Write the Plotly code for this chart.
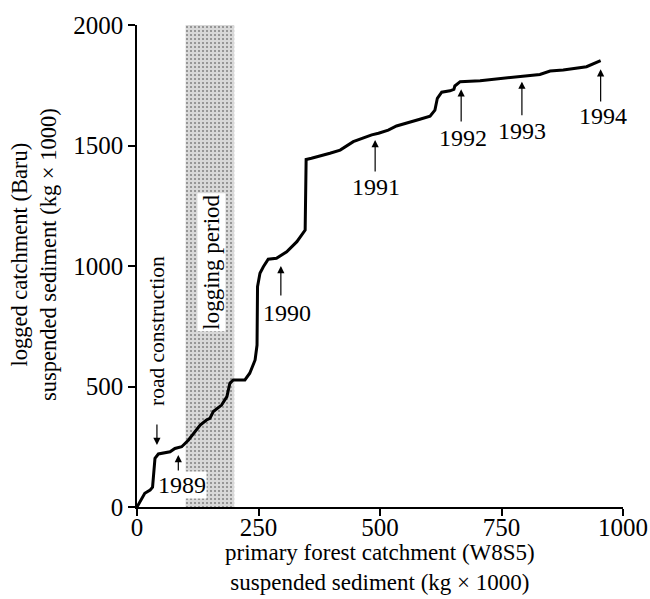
import plotly.graph_objects as go

# Cumulative suspended sediment: primary forest (W8S5) vs logged catchment (Baru), kg x 1000
forest_sed = [0, 16, 27, 32, 37, 44, 68, 78, 92, 106, 130, 143, 150, 157, 174, 185, 191, 198,
              222, 232, 243, 247, 248, 253, 260, 270, 287, 308, 329, 346, 348, 359, 397, 418,
              445, 462, 483, 497, 517, 534, 562, 582, 603, 613, 618, 627, 644, 652, 654, 665,
              706, 774, 829, 850, 877, 925, 939, 954]
logged_sed = [0, 57, 70, 82, 202, 220, 229, 243, 250, 278, 340, 361, 368, 396, 423, 458, 513, 527,
              527, 555, 610, 672, 914, 970, 997, 1028, 1032, 1059, 1101, 1149, 1442, 1447, 1468, 1481,
              1516, 1530, 1544, 1551, 1564, 1581, 1599, 1609, 1622, 1647, 1696, 1721, 1727, 1733, 1747, 1765,
              1769, 1783, 1795, 1809, 1813, 1827, 1838, 1852]

# Logging period on the forest-catchment axis
logging_start, logging_end = 100, 200

# Year markers: label, arrow x, arrow head y, arrow tail y, label x, label y
year_labels = ["1989", "1990", "1991", "1992", "1993", "1994"]
year_arrow_x = [85, 296, 490, 667, 792, 954]
year_head_y = [216, 1000, 1523, 1733, 1765, 1816]
year_tail_y = [145, 871, 1386, 1593, 1619, 1676]
year_text_x = [92, 309, 492, 670, 793, 958]
year_text_y = [91, 805, 1328, 1531, 1561, 1622]

x_ticks = [0, 250, 500, 750, 1000]
y_ticks = [0, 500, 1000, 1500, 2000]

FONT = "Liberation Serif, Times New Roman, serif"

fig = go.Figure()

# stippled band for the logging period
fig.add_trace(go.Scatter(
    x=[logging_start, logging_end, logging_end, logging_start, logging_start],
    y=[0, 0, 2000, 2000, 0],
    mode="lines", line=dict(width=0), fill="toself",
    fillcolor="rgba(0,0,0,0)",
    fillpattern=dict(shape=".", fgcolor="#333333", bgcolor="#d8d8d8", size=4, solidity=0.22),
    hoverinfo="skip", showlegend=False,
))

fig.add_trace(go.Scatter(
    x=forest_sed, y=logged_sed, mode="lines",
    line=dict(color="black", width=3), cliponaxis=False, showlegend=False,
))

annotations = []
# road construction
annotations.append(dict(x=41, y=257, ax=41, ay=349, axref="x", ayref="y", xref="x", yref="y",
                        text="", showarrow=True, arrowhead=2, arrowsize=1.2, arrowwidth=1.2,
                        arrowcolor="black"))
annotations.append(dict(x=41, y=730, xref="x", yref="y", text="road construction", textangle=-90,
                        showarrow=False, font=dict(family=FONT, size=21.5, color="black"),
                        xanchor="center", yanchor="middle"))
# logging period
annotations.append(dict(x=154, y=1017, xref="x", yref="y", text="logging period", textangle=-90,
                        showarrow=False, font=dict(family=FONT, size=23, color="black"),
                        bgcolor="white", borderpad=1, xanchor="center", yanchor="middle"))

for lab, ax_, hy, ty, tx, tyy in zip(year_labels, year_arrow_x, year_head_y, year_tail_y,
                                     year_text_x, year_text_y):
    annotations.append(dict(x=ax_, y=hy, ax=ax_, ay=ty, axref="x", ayref="y", xref="x", yref="y",
                            text="", showarrow=True, arrowhead=2, arrowsize=1.2, arrowwidth=1.2,
                            arrowcolor="black"))
    annotations.append(dict(x=tx, y=tyy, xref="x", yref="y", text=lab, showarrow=False,
                            font=dict(family=FONT, size=24, color="black"),
                            bgcolor="white" if lab == "1989" else "rgba(0,0,0,0)", borderpad=0,
                            xanchor="center", yanchor="middle"))

# axis titles
annotations.append(dict(x=0.5, y=0, xref="paper", yref="paper", yshift=-60,
                        text="primary forest catchment (W8S5)<br>suspended sediment (kg × 1000)",
                        showarrow=False, font=dict(family=FONT, size=23, color="black"),
                        xanchor="center", yanchor="middle"))
annotations.append(dict(x=0, y=0.5, xref="paper", yref="paper", xshift=-103, yshift=11,
                        text="logged catchment (Baru)<br>suspended sediment (kg × 1000)",
                        textangle=-90, showarrow=False,
                        font=dict(family=FONT, size=22.5, color="black"),
                        xanchor="center", yanchor="middle"))

fig.update_layout(
    width=650, height=599,
    margin=dict(l=137, r=27, t=25, b=92, autoexpand=False),
    paper_bgcolor="white", plot_bgcolor="white",
    font=dict(family=FONT, size=25, color="black"),
    annotations=annotations,
    xaxis=dict(
        range=[0, 1000], tickvals=x_ticks, ticks="outside", ticklen=7, tickwidth=1.5,
        tickcolor="black", showline=True, linecolor="black", linewidth=1.5,
        showgrid=False, zeroline=False, fixedrange=True, automargin=False,
        ticklabelstandoff=-10,
        tickfont=dict(family=FONT, size=25),
    ),
    yaxis=dict(
        range=[0, 2000], tickvals=y_ticks, ticks="outside", ticklen=7, tickwidth=1.5,
        tickcolor="black", showline=True, linecolor="black", linewidth=1.5,
        showgrid=False, zeroline=False, fixedrange=True, automargin=False,
        ticklabelstandoff=0,
        tickfont=dict(family=FONT, size=25),
    ),
)

fig.write_html("out.html")
